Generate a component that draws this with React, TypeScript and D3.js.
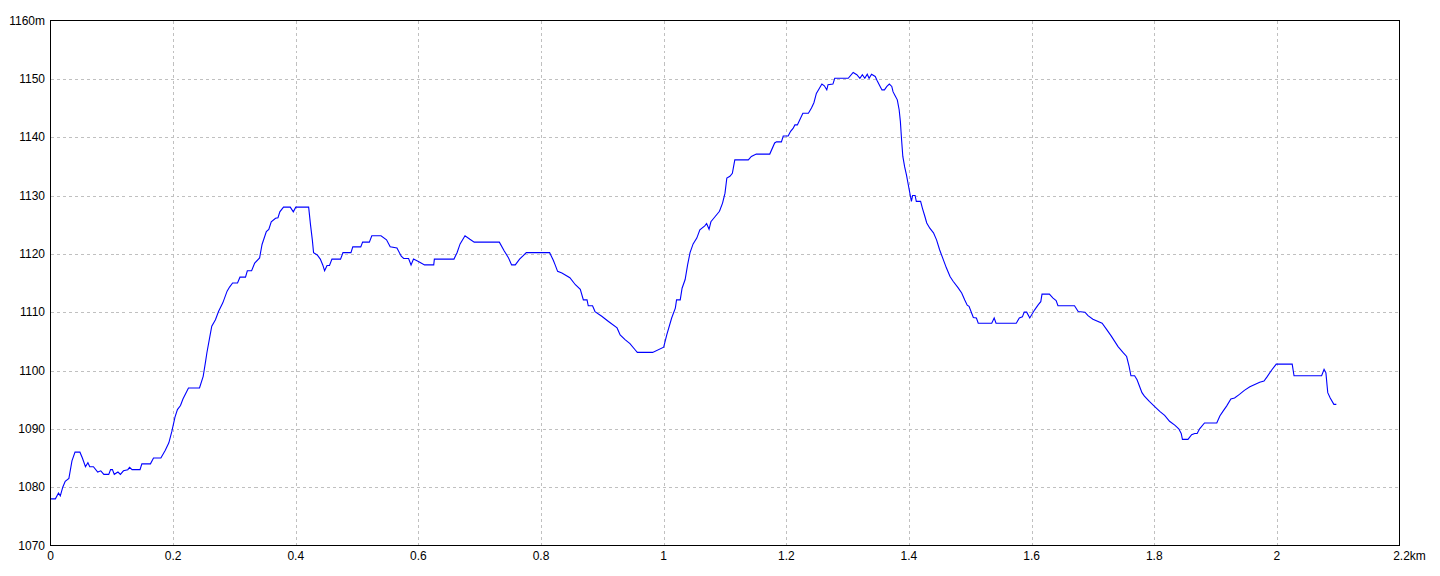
import React from "react";
import * as d3 from "d3";

const distanceKm: number[] = [
  0, 0.008, 0.013, 0.016, 0.02, 0.024, 0.03, 0.035, 0.04, 0.048, 0.052, 0.057, 0.061, 0.064, 0.07, 0.077, 0.082, 0.087, 0.095, 0.098,
  0.101, 0.104, 0.11, 0.114, 0.119, 0.126, 0.129, 0.133, 0.146, 0.149, 0.163, 0.168, 0.18, 0.187, 0.193, 0.198, 0.203, 0.207, 0.212, 0.216,
  0.225, 0.243, 0.249, 0.253, 0.255, 0.26, 0.263, 0.269, 0.274, 0.281, 0.288, 0.292, 0.297, 0.305, 0.309, 0.318, 0.321, 0.328, 0.333, 0.341,
  0.345, 0.352, 0.356, 0.36, 0.367, 0.371, 0.374, 0.38, 0.391, 0.396, 0.4, 0.421, 0.424, 0.427, 0.429, 0.435, 0.44, 0.444, 0.447, 0.451,
  0.455, 0.459, 0.473, 0.477, 0.49, 0.493, 0.506, 0.509, 0.52, 0.524, 0.539, 0.548, 0.554, 0.565, 0.572, 0.576, 0.584, 0.588, 0.592, 0.6,
  0.61, 0.625, 0.626, 0.658, 0.663, 0.668, 0.676, 0.684, 0.691, 0.732, 0.74, 0.747, 0.752, 0.758, 0.765, 0.776, 0.814, 0.82, 0.823, 0.827,
  0.834, 0.847, 0.856, 0.864, 0.869, 0.875, 0.877, 0.884, 0.888, 0.899, 0.91, 0.924, 0.929, 0.937, 0.945, 0.953, 0.957, 0.982, 1.0, 1.005,
  1.013, 1.019, 1.021, 1.027, 1.03, 1.035, 1.039, 1.043, 1.048, 1.054, 1.059, 1.067, 1.07, 1.074, 1.077, 1.084, 1.091, 1.096, 1.1, 1.103,
  1.108, 1.112, 1.116, 1.138, 1.143, 1.151, 1.173, 1.181, 1.184, 1.192, 1.195, 1.203, 1.207, 1.211, 1.214, 1.218, 1.222, 1.227, 1.236, 1.241,
  1.245, 1.249, 1.254, 1.258, 1.262, 1.266, 1.268, 1.276, 1.279, 1.301, 1.309, 1.315, 1.32, 1.324, 1.328, 1.332, 1.335, 1.339, 1.345, 1.348,
  1.353, 1.356, 1.36, 1.364, 1.368, 1.372, 1.374, 1.377, 1.381, 1.384, 1.386, 1.388, 1.39, 1.393, 1.396, 1.399, 1.402, 1.404, 1.406, 1.41,
  1.412, 1.419, 1.422, 1.426, 1.429, 1.434, 1.44, 1.445, 1.45, 1.456, 1.461, 1.467, 1.472, 1.48, 1.486, 1.491, 1.495, 1.498, 1.502, 1.505,
  1.51, 1.513, 1.535, 1.539, 1.542, 1.575, 1.58, 1.585, 1.588, 1.592, 1.597, 1.605, 1.611, 1.615, 1.617, 1.629, 1.635, 1.64, 1.643, 1.67,
  1.676, 1.687, 1.692, 1.7, 1.715, 1.722, 1.73, 1.741, 1.749, 1.755, 1.759, 1.762, 1.768, 1.772, 1.776, 1.78, 1.784, 1.792, 1.8, 1.809,
  1.817, 1.825, 1.834, 1.84, 1.844, 1.846, 1.855, 1.861, 1.866, 1.87, 1.874, 1.882, 1.902, 1.907, 1.912, 1.918, 1.925, 1.931, 1.939, 1.947,
  1.956, 1.964, 1.972, 1.979, 1.984, 1.991, 1.999, 2.025, 2.028, 2.073, 2.077, 2.08, 2.082, 2.083, 2.087, 2.093, 2.097,
];

const elevationM: number[] = [
  1078, 1078, 1079, 1078.5, 1080, 1081, 1081.5, 1084.5, 1086, 1086, 1085, 1083.5, 1084.2, 1083.5, 1083.5, 1082.6, 1082.8, 1082.2, 1082.2, 1083,
  1083, 1082.2, 1082.6, 1082.2, 1082.8, 1083, 1083.4, 1083, 1083, 1084, 1084, 1085, 1085, 1086.3, 1087.6, 1089.6, 1092, 1093.3, 1094, 1095.1,
  1097, 1097, 1099, 1101.6, 1103, 1105.9, 1107.6, 1108.7, 1110.1, 1111.6, 1113.6, 1114.3, 1115, 1115, 1116, 1116, 1117.1, 1117.1, 1118.4, 1119.3,
  1121.6, 1123.8, 1124.2, 1125.5, 1126.1, 1126.2, 1127.2, 1128, 1128, 1127.2, 1128, 1128, 1125, 1122.4, 1120.2, 1119.8, 1119.1, 1118.1, 1117.1, 1118,
  1118, 1119.1, 1119.1, 1120.2, 1120.2, 1121.2, 1121.2, 1122, 1122, 1123.1, 1123.1, 1122.4, 1121.2, 1121, 1119.6, 1119.2, 1119.2, 1118.1, 1119.1, 1118.7,
  1118.1, 1118.1, 1119.1, 1119.1, 1120.2, 1121.7, 1123.1, 1122.5, 1122, 1122, 1120.5, 1119.3, 1118.1, 1118.1, 1119.1, 1120.2, 1120.2, 1118.9, 1118.1, 1117,
  1116.7, 1115.9, 1114.7, 1113.9, 1112.1, 1112.1, 1111.1, 1111.1, 1110.1, 1109.3, 1108.4, 1107.3, 1106.1, 1105.3, 1104.6, 1103.6, 1103.1, 1103.1, 1104, 1106.1,
  1109, 1110.7, 1112.1, 1112.1, 1114.1, 1115.6, 1118.1, 1120.2, 1121.7, 1122.7, 1124.1, 1124.8, 1125.2, 1124.2, 1125.5, 1126.4, 1127.3, 1128.7, 1130.4, 1133,
  1133.3, 1133.8, 1136.1, 1136.1, 1136.7, 1137.1, 1137.1, 1139, 1139.2, 1139.2, 1140.2, 1140.2, 1141, 1141.5, 1142.1, 1142.1, 1143, 1144.1, 1144.1, 1145,
  1145.9, 1147.5, 1148.4, 1149.1, 1148.8, 1148.1, 1149, 1149.1, 1150.1, 1150.1, 1151.1, 1150.7, 1150.1, 1150.7, 1150.1, 1150.8, 1150.1, 1150.8, 1150.4, 1149.7,
  1148.7, 1148.1, 1148.1, 1148.7, 1149.1, 1148.7, 1147.8, 1147.2, 1146.4, 1144.7, 1142.7, 1139.5, 1136.7, 1134.9, 1133.5, 1131.8, 1130.1, 1129, 1130, 1130,
  1129, 1129, 1127.8, 1126.4, 1125.3, 1124.4, 1123.6, 1122.4, 1120.7, 1119, 1117.6, 1116.1, 1115.3, 1114.2, 1113.3, 1112.1, 1111.2, 1111, 1109.9, 1109.1,
  1109, 1108.1, 1108.1, 1109, 1108.1, 1108.1, 1109, 1109.2, 1110, 1110, 1109, 1110.4, 1111.3, 1111.8, 1113.1, 1113.1, 1112.4, 1112, 1111.1, 1111.1,
  1110.1, 1110, 1109.4, 1108.8, 1108.1, 1107.1, 1105.9, 1104.1, 1103.1, 1102.4, 1100.7, 1099.1, 1099.1, 1098.4, 1097.3, 1096.2, 1095.6, 1094.7, 1093.9, 1093,
  1092.3, 1091.3, 1090.6, 1090, 1089.2, 1088.2, 1088.2, 1089, 1089.2, 1089.2, 1090, 1091, 1091, 1092.2, 1093, 1093.9, 1095.1, 1095.3, 1095.9, 1096.6,
  1097.2, 1097.6, 1098, 1098.2, 1098.9, 1100, 1101.1, 1101.1, 1099.1, 1099.1, 1100.2, 1099.6, 1097.3, 1096.2, 1095.3, 1094.2, 1094.2,
];

const xTicks: number[] = [0, 0.2, 0.4, 0.6, 0.8, 1, 1.2, 1.4, 1.6, 1.8, 2, 2.2];
const xTickLabels: string[] = ["0", "0.2", "0.4", "0.6", "0.8", "1", "1.2", "1.4", "1.6", "1.8", "2", "2.2km"];
const yTicks: number[] = [1070, 1080, 1090, 1100, 1110, 1120, 1130, 1140, 1150, 1160];
const yTickLabels: string[] = ["1070", "1080", "1090", "1100", "1110", "1120", "1130", "1140", "1150", "1160m"];

const W = 1440;
const H = 576;
const M = { left: 50.5, right: 40.5, top: 20.5, bottom: 30.5 };

export default function App() {
  const x = d3.scaleLinear().domain([0, 2.2]).range([M.left, W - M.right]);
  const y = d3.scaleLinear().domain([1070, 1160]).range([H - M.bottom, M.top]);
  const pts: [number, number][] = distanceKm.map((d, i) => [d, elevationM[i]]);
  const line = d3
    .line<[number, number]>()
    .x((d) => x(d[0]))
    .y((d) => y(d[1]));
  const font = "'Liberation Sans', Arial, sans-serif";
  return (
    <svg
      width={W}
      height={H}
      style={{ position: "absolute", left: 0, top: 0, background: "#fff" }}
    >
      <rect x={0} y={0} width={W} height={H} fill="#fff" />
      {xTicks.slice(1, -1).map((t) => (
        <line
          key={"gx" + t}
          x1={Math.round(x(t)) + 0.5}
          x2={Math.round(x(t)) + 0.5}
          y1={y(1160)}
          y2={y(1070)}
          stroke="#c0c0c0"
          strokeDasharray="3,3"
          shapeRendering="crispEdges"
        />
      ))}
      {yTicks.slice(1, -1).map((t) => (
        <line
          key={"gy" + t}
          x1={x(0)}
          x2={x(2.2)}
          y1={Math.round(y(t)) + 0.5}
          y2={Math.round(y(t)) + 0.5}
          stroke="#c0c0c0"
          strokeDasharray="3,3"
          shapeRendering="crispEdges"
        />
      ))}
      <path d={line(pts) || ""} fill="none" stroke="#0000ff" strokeWidth={1.1} />
      <rect
        x={x(0)}
        y={y(1160)}
        width={x(2.2) - x(0)}
        height={y(1070) - y(1160)}
        fill="none"
        stroke="#000"
        strokeWidth={1}
        shapeRendering="crispEdges"
      />
      {yTicks.map((t, i) => (
        <text
          key={"ty" + t}
          x={45}
          y={y(t)}
          textAnchor="end"
          dominantBaseline="central"
          fontFamily={font}
          fontSize={12}
          fill="#000"
        >
          {yTickLabels[i]}
        </text>
      ))}
      {xTicks.map((t, i) => (
        <text
          key={"tx" + t}
          x={x(t) + (i === xTicks.length - 1 ? 10 : 0)}
          y={556}
          textAnchor="middle"
          dominantBaseline="central"
          fontFamily={font}
          fontSize={12}
          fill="#000"
        >
          {xTickLabels[i]}
        </text>
      ))}
    </svg>
  );
}
